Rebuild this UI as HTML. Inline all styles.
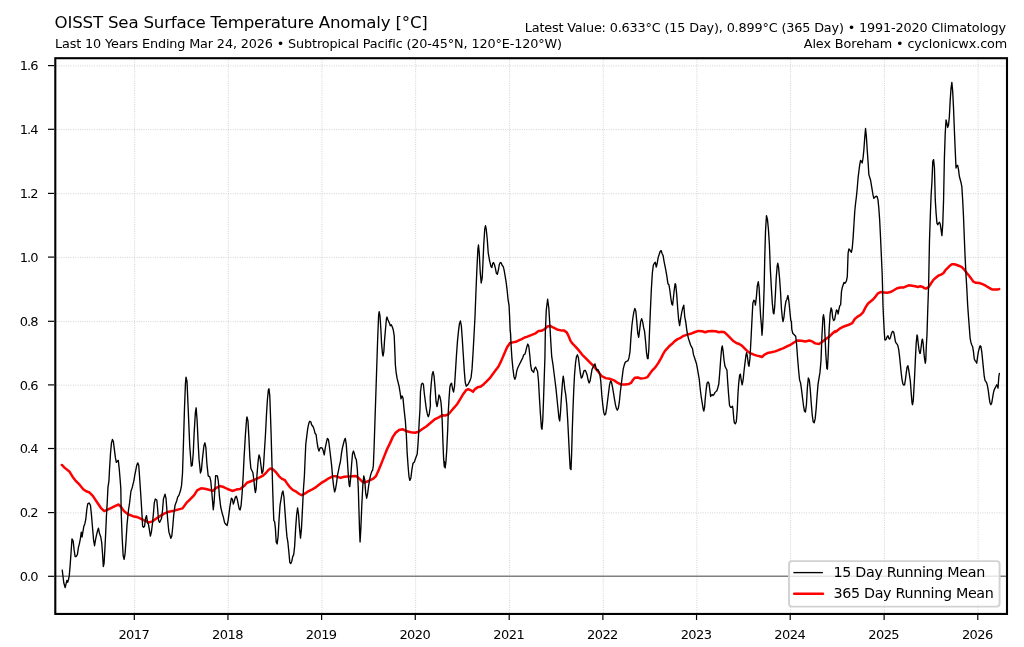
<!DOCTYPE html><html><head><meta charset="utf-8"><style>html,body{margin:0;padding:0;background:#fff;width:1024px;height:647px;overflow:hidden;}svg{display:block;}text{font-family:"DejaVu Sans","Liberation Sans",sans-serif;fill:#000;font-variant-ligatures:none;font-feature-settings:"liga" 0,"clig" 0;font-kerning:normal;}</style></head><body>
<svg width="1024" height="647" viewBox="0 0 1024 647">
<rect x="0" y="0" width="1024" height="647" fill="#fff"/>
<g stroke="#b0b0b0" stroke-width="0.9" stroke-dasharray="0.9 1.45" opacity="0.7"><line x1="56.5" x2="1006" y1="512.90" y2="512.90"/><line x1="56.5" x2="1006" y1="448.80" y2="448.80"/><line x1="56.5" x2="1006" y1="385.20" y2="385.20"/><line x1="56.5" x2="1006" y1="321.60" y2="321.60"/><line x1="56.5" x2="1006" y1="257.40" y2="257.40"/><line x1="56.5" x2="1006" y1="193.70" y2="193.70"/><line x1="56.5" x2="1006" y1="129.60" y2="129.60"/><line x1="56.5" x2="1006" y1="65.90" y2="65.90"/><line x1="134.65" x2="134.65" y1="59.5" y2="613"/><line x1="228.31" x2="228.31" y1="59.5" y2="613"/><line x1="321.98" x2="321.98" y1="59.5" y2="613"/><line x1="415.64" x2="415.64" y1="59.5" y2="613"/><line x1="509.56" x2="509.56" y1="59.5" y2="613"/><line x1="603.22" x2="603.22" y1="59.5" y2="613"/><line x1="696.89" x2="696.89" y1="59.5" y2="613"/><line x1="790.55" x2="790.55" y1="59.5" y2="613"/><line x1="884.47" x2="884.47" y1="59.5" y2="613"/><line x1="978.13" x2="978.13" y1="59.5" y2="613"/></g>
<line x1="56" x2="1006" y1="576.25" y2="576.25" stroke="#808080" stroke-width="1.35"/>
<polyline fill="none" stroke="#ff0000" stroke-width="2.5" stroke-linejoin="round" stroke-linecap="round" points="61.84,464.97 64.76,467.89 69.63,471.79 72.55,476.65 75.46,480.55 79.36,484.44 83.25,489.30 86.17,491.25 89.09,492.22 92.98,496.12 96.88,501.96 100.77,507.80 104.27,511.10 107.58,509.74 111.47,507.80 115.37,505.85 118.68,504.49 121.21,507.21 124.13,511.30 128.02,514.22 132.89,516.17 136.78,516.94 141.64,519.09 145.54,521.03 149.04,522.39 152.35,521.42 156.24,518.50 160.14,516.17 164.03,513.64 168.90,511.69 173.76,510.72 178.63,509.35 182.52,508.38 186.41,502.93 190.31,499.04 194.20,495.14 197.12,490.28 201.01,488.33 204.91,488.72 208.80,489.69 212.69,490.86 212.92,490.95 215.84,488.03 219.73,486.08 223.63,487.06 227.52,489.00 232.38,490.95 236.28,489.59 240.17,489.00 244.06,486.08 246.98,482.77 250.88,481.22 254.77,479.66 258.66,477.91 262.55,475.96 265.47,473.43 268.39,469.93 270.34,468.56 273.26,469.54 276.18,472.46 279.10,476.35 282.02,478.88 284.94,480.24 286.89,483.16 289.81,487.06 292.73,489.98 295.64,491.34 298.56,493.48 301.48,495.23 304.40,493.87 307.32,491.92 311.22,489.98 316.08,487.06 320.95,483.16 324.84,480.83 328.73,478.30 332.63,476.35 336.52,476.35 340.41,477.91 344.31,476.74 348.20,476.55 352.09,476.35 355.99,475.96 358.91,478.30 361.82,481.22 363.77,482.58 366.69,481.80 369.61,480.24 369.17,480.70 373.35,478.61 376.13,475.83 378.91,469.57 381.70,462.61 384.48,455.65 387.26,448.70 390.04,443.13 392.83,436.87 395.61,432.70 399.09,429.91 402.57,429.22 406.74,431.30 410.91,432.28 415.09,432.70 418.57,431.72 422.04,429.22 426.22,426.43 430.39,422.96 434.57,419.48 438.74,417.39 442.22,415.30 445.78,415.38 448.70,414.01 451.62,410.51 454.54,407.20 457.46,403.70 460.38,398.83 463.30,393.97 466.22,390.07 468.16,389.10 471.08,390.46 473.03,391.63 474.98,389.10 477.90,387.15 480.82,386.57 483.73,384.23 486.65,381.31 489.57,378.39 492.49,374.50 495.41,370.61 498.33,366.72 501.25,360.88 504.17,354.06 507.09,347.25 510.01,342.97 512.93,342.38 515.85,341.80 518.77,340.44 521.69,339.08 524.61,337.52 526.81,336.83 531.68,334.88 535.57,333.32 538.49,330.99 541.41,330.79 544.33,329.43 547.25,326.51 550.17,325.93 553.09,327.48 556.98,329.43 560.88,330.40 563.80,330.40 566.72,332.35 568.66,336.24 570.61,341.11 572.55,343.64 575.47,346.56 578.39,349.89 582.29,354.76 586.18,358.65 590.07,362.55 593.97,366.44 597.86,371.30 601.75,376.17 605.64,378.12 609.54,378.70 613.43,380.06 617.32,382.59 621.22,384.54 625.11,384.54 629.00,383.96 630.95,382.98 632.90,380.06 634.84,377.73 637.76,377.53 640.68,378.51 644.57,378.12 647.49,377.14 649.44,374.22 652.36,370.33 655.28,367.41 658.20,363.13 661.12,358.07 663.07,354.18 665.01,350.87 668.91,346.56 671.82,344.03 674.74,341.11 677.66,339.16 680.00,338.19 682.79,336.17 686.68,334.81 690.57,333.83 694.46,332.28 698.36,330.91 702.25,331.30 705.17,332.28 708.09,331.30 711.98,330.91 715.88,331.30 718.80,332.28 721.72,331.69 724.64,332.28 727.55,335.20 730.47,338.12 733.39,341.04 736.31,342.98 739.23,343.96 742.15,345.90 745.07,348.82 747.99,351.74 750.91,353.30 753.83,354.66 756.75,355.64 759.67,356.22 762.01,357.00 764.54,354.66 767.46,353.10 771.35,352.33 775.24,351.35 779.14,349.80 783.03,348.43 786.92,346.49 790.82,344.54 794.71,342.01 797.63,340.45 801.52,340.65 805.41,341.43 809.31,340.45 812.23,341.43 815.15,343.37 819.04,343.96 821.96,342.01 825.85,339.09 829.74,336.17 832.66,333.25 835.00,331.30 835.33,331.94 837.32,330.62 840.64,328.12 843.96,326.46 847.28,325.30 850.60,323.97 852.26,323.14 854.75,318.99 857.24,316.84 860.56,314.84 863.05,312.35 865.54,307.37 868.03,303.55 870.52,301.56 873.01,299.57 875.50,296.58 877.99,293.26 880.48,292.10 883.80,292.43 887.12,292.76 890.45,292.10 893.77,290.27 897.09,288.28 900.41,287.45 903.73,287.45 906.22,286.29 908.71,285.29 912.03,285.79 915.35,286.29 917.84,286.95 920.33,286.29 922.82,286.95 924.48,288.28 926.14,288.61 928.63,286.95 931.12,283.30 933.61,279.65 936.10,277.49 938.59,275.44 941.08,274.61 943.57,272.95 945.23,270.46 947.72,267.97 950.21,265.48 951.87,264.32 954.36,264.32 956.85,264.98 959.34,265.98 961.83,267.14 964.32,269.63 966.81,272.95 969.30,275.94 970.96,278.32 973.45,281.64 975.94,282.80 979.26,282.97 982.58,284.13 985.07,285.29 987.56,286.95 990.05,288.28 992.54,289.61 995.04,289.61 997.53,289.44 999.19,289.11"/>
<polyline fill="none" stroke="#000" stroke-width="1.35" stroke-linejoin="round" stroke-linecap="round" points="62.23,570.08 63.79,582.73 65.15,587.60 66.12,583.71 66.90,580.40 67.68,582.35 68.46,579.82 69.24,575.92 70.01,567.16 70.99,553.54 71.96,538.94 73.13,540.89 74.10,549.64 75.08,556.46 76.24,556.46 77.41,554.51 78.38,547.70 79.36,543.81 80.33,538.94 81.30,532.13 82.08,536.99 82.86,532.13 83.83,526.29 84.81,523.95 85.78,519.47 86.75,509.74 87.73,503.90 89.09,502.93 90.45,505.27 91.43,514.61 92.40,526.29 93.57,539.91 94.54,545.75 95.51,539.91 96.49,535.05 97.46,531.15 98.43,528.23 99.41,533.10 100.77,536.99 101.74,542.83 102.52,553.54 103.30,566.58 104.08,563.27 104.86,549.64 105.64,534.07 106.41,516.55 107.19,502.93 107.97,487.36 108.94,480.79 109.53,469.11 110.50,453.54 111.47,442.83 112.45,439.52 113.42,441.86 114.39,449.64 115.37,457.43 116.34,462.30 117.31,461.32 118.29,460.35 119.26,469.11 120.23,480.79 120.82,488.57 121.21,512.66 122.18,537.97 123.15,555.48 124.13,559.38 125.10,553.54 126.07,539.91 127.05,524.34 128.41,510.72 129.58,502.93 130.94,491.25 132.30,487.36 132.89,484.68 133.86,480.79 134.83,474.95 135.81,470.08 136.78,465.22 137.75,462.88 138.73,465.22 139.31,473.00 140.09,484.68 140.67,493.20 141.64,508.77 142.62,526.29 143.59,527.26 144.56,526.29 145.54,518.50 146.51,515.58 147.48,522.39 148.46,524.34 149.43,530.18 150.40,536.02 151.38,532.13 152.35,524.34 153.32,514.61 154.30,502.93 155.27,499.04 156.83,500.01 157.61,508.77 158.58,520.45 159.55,522.39 160.53,520.45 161.50,518.50 162.47,510.72 163.45,499.04 165.00,494.17 165.98,498.06 166.95,510.72 167.92,522.39 168.90,532.13 169.87,535.05 170.84,538.36 171.82,536.02 172.79,526.29 173.76,514.61 175.12,504.88 176.68,500.98 177.65,497.09 179.02,495.14 180.57,490.28 181.55,485.41 182.52,473.00 183.49,441.86 184.47,408.77 185.44,383.46 186.02,377.24 187.00,381.52 188.36,412.66 189.72,445.75 191.28,466.19 192.25,465.22 193.23,453.54 194.20,432.13 195.37,412.66 196.15,407.80 197.12,420.45 198.09,441.86 199.07,459.38 200.43,473.00 201.40,470.08 202.37,459.38 203.93,445.75 204.91,442.83 205.88,447.70 206.85,463.27 208.21,475.92 209.77,476.90 210.74,480.79 211.72,491.25 212.69,502.93 213.27,509.74 214.05,502.93 214.64,493.20 215.61,475.68 217.40,475.84 218.37,481.68 219.34,495.30 220.71,506.98 222.07,512.82 223.24,516.72 224.60,522.55 225.96,524.50 227.13,525.47 228.10,520.61 229.08,512.82 229.85,506.98 230.83,501.14 231.41,498.22 232.38,499.20 233.36,504.06 234.33,501.14 235.30,497.25 236.28,496.28 237.25,499.20 238.22,504.06 239.20,508.93 240.17,509.90 241.14,505.04 242.12,493.36 243.09,477.79 244.06,457.86 245.43,434.50 246.59,418.93 246.98,416.98 247.96,420.88 248.93,438.39 249.90,457.86 250.88,468.56 251.85,470.51 252.82,472.46 253.80,479.27 254.77,489.00 255.35,492.51 256.13,489.00 257.10,473.43 258.27,459.81 259.05,454.94 260.02,457.86 261.00,465.64 261.97,473.43 262.94,471.48 263.53,465.64 264.50,450.07 265.47,434.50 266.45,415.04 267.42,399.46 268.39,389.73 268.98,388.76 269.76,395.57 270.34,411.14 271.12,434.50 271.90,461.75 272.68,489.00 273.26,506.98 273.84,520.61 274.62,521.58 275.40,528.39 276.18,542.02 277.15,543.97 278.13,536.18 279.10,518.66 280.07,505.04 281.05,499.20 282.02,493.36 282.99,491.02 283.97,497.25 284.94,510.88 285.91,524.50 286.89,536.18 287.86,542.02 288.83,551.75 289.81,562.46 290.78,563.43 291.75,561.48 292.73,556.62 293.70,554.67 294.67,545.91 295.64,528.39 296.62,514.77 297.59,507.96 298.56,514.77 299.54,528.39 300.51,538.13 301.48,528.39 302.46,508.93 303.43,489.46 304.40,475.84 304.99,461.75 305.77,444.23 306.74,436.45 307.71,428.66 308.69,423.80 309.66,421.27 310.83,421.85 311.61,424.77 313.16,426.72 314.14,429.64 315.11,433.53 316.08,434.50 317.06,442.29 318.03,448.13 319.00,451.05 319.98,448.13 320.95,447.74 322.31,448.13 323.28,451.05 324.26,454.94 325.23,448.13 326.40,442.29 327.37,438.39 328.35,439.37 329.12,444.23 330.29,453.97 331.65,465.64 332.63,477.32 333.60,486.08 334.57,491.92 335.55,489.00 336.52,483.16 337.49,475.38 338.47,470.51 339.44,465.64 340.41,461.75 341.39,453.97 342.36,448.13 343.33,444.23 344.31,440.34 345.28,438.39 346.25,444.23 347.23,457.86 348.20,473.43 349.17,485.11 349.76,486.67 350.54,479.27 351.51,465.64 352.48,453.97 353.45,451.05 354.43,453.97 355.40,457.86 356.37,459.81 357.35,469.54 358.32,489.00 358.91,508.93 359.49,528.39 360.07,542.02 360.85,528.39 361.82,505.04 362.80,485.57 363.77,475.84 364.74,479.73 365.72,493.36 366.69,498.22 367.66,493.36 368.64,485.57 369.61,479.73 370.57,475.13 371.96,470.96 372.65,470.26 373.35,465.39 374.04,448.70 374.74,427.83 376.68,368.66 377.65,339.46 378.63,315.11 379.21,311.61 379.99,316.08 380.96,330.68 381.55,343.36 382.52,354.06 383.10,356.01 383.88,351.14 384.46,341.41 385.44,329.73 386.41,319.00 387.00,317.06 387.97,319.98 389.33,322.90 390.30,325.82 391.28,324.84 392.25,326.79 393.22,329.71 394.20,335.57 394.78,349.20 395.36,364.77 396.14,372.55 397.12,378.39 398.09,382.29 399.06,386.18 400.04,392.02 401.01,398.83 401.98,395.91 402.96,397.86 403.96,408.35 405.35,420.87 406.32,434.78 407.16,452.87 408.13,466.78 408.97,476.52 409.80,480.42 410.91,477.91 411.89,469.57 413.00,463.30 414.39,461.91 415.78,457.74 417.17,454.26 417.87,445.91 418.57,434.78 419.26,420.87 419.96,409.74 420.47,392.02 421.45,384.23 422.42,383.26 423.39,384.23 424.37,393.97 426.22,408.35 427.33,413.91 428.30,416.70 429.28,413.91 430.39,405.57 430.21,397.86 431.18,384.23 432.15,374.50 433.13,371.58 434.10,376.45 435.07,388.13 436.05,401.75 437.02,406.62 437.99,401.75 438.97,394.94 439.94,396.89 440.91,401.75 441.52,408.35 442.22,420.87 442.91,441.74 443.61,458.43 444.30,466.78 444.42,461.41 445.19,467.83 445.97,461.41 446.75,449.73 447.73,429.00 448.31,411.48 449.09,397.86 449.87,387.15 450.64,384.23 451.62,383.26 452.59,389.10 453.56,392.02 454.54,386.18 455.51,370.61 456.48,355.04 457.46,341.41 458.43,331.68 459.40,323.89 460.38,320.97 461.35,325.84 462.32,339.46 463.30,355.04 464.27,370.61 465.24,382.29 466.22,386.18 467.19,385.21 468.16,384.23 470.11,380.34 471.08,377.42 472.06,368.66 473.03,353.09 474.00,335.57 474.98,317.06 475.95,291.75 476.92,268.39 477.90,248.93 478.48,245.04 479.26,252.82 480.23,272.29 481.20,282.99 482.18,278.13 482.96,262.55 483.73,245.04 484.71,229.46 485.49,225.57 486.27,229.46 487.24,239.20 488.21,252.82 489.57,260.61 490.94,266.45 491.91,267.42 492.69,263.53 493.47,262.55 494.44,264.50 495.41,268.39 496.39,273.26 497.36,274.23 498.33,270.34 499.31,264.50 500.28,262.55 501.25,262.94 502.23,265.47 503.20,266.45 504.17,270.34 505.15,276.18 506.12,282.02 507.09,289.81 508.07,299.54 509.04,305.38 509.62,317.06 510.21,330.68 510.60,333.63 510.99,343.36 511.96,358.93 512.93,368.66 513.91,376.45 514.88,379.37 515.85,376.45 516.82,370.61 517.80,367.69 518.77,365.74 519.74,363.80 520.72,361.85 521.69,359.90 522.66,357.96 523.64,355.04 525.00,354.06 525.84,350.84 526.81,346.95 527.79,344.03 528.76,345.98 529.73,354.73 530.71,365.46 531.68,370.33 532.65,371.30 533.63,372.28 534.60,368.38 535.57,367.02 536.55,369.36 537.52,371.30 538.49,381.04 539.46,398.55 540.44,414.13 541.41,427.75 542.00,429.31 542.77,419.97 543.36,404.39 544.14,381.04 544.91,357.68 545.30,333.32 546.28,309.97 547.64,299.26 548.81,308.02 549.78,323.59 550.75,341.11 551.73,356.68 553.09,365.46 554.06,373.25 555.04,381.04 556.01,388.82 556.98,398.55 557.96,408.29 558.93,418.02 559.71,420.94 560.49,412.18 561.46,396.61 562.43,382.98 563.21,376.17 563.99,381.04 564.77,388.82 565.74,394.66 566.72,404.39 567.69,419.97 568.66,439.43 569.64,458.90 570.22,468.63 571.00,469.60 571.58,455.00 572.17,433.59 572.94,410.23 573.72,390.77 574.50,375.20 575.47,363.52 576.45,356.71 577.42,354.76 578.39,357.68 579.37,365.46 580.34,373.25 581.31,378.12 582.29,377.14 583.26,373.25 584.23,370.33 585.21,370.33 586.18,372.28 587.15,375.20 588.13,380.06 589.10,382.98 590.07,381.04 591.05,375.20 592.02,369.36 592.99,367.41 593.97,365.46 594.94,363.91 595.91,367.41 596.89,370.33 597.86,369.36 598.83,371.30 599.81,374.22 600.78,381.04 601.75,394.66 602.73,404.39 603.70,412.18 604.67,415.10 605.64,414.13 606.62,408.29 607.59,400.50 608.56,392.72 609.54,384.93 610.51,381.04 611.48,382.01 612.46,386.88 613.43,392.72 614.40,398.55 615.38,404.39 616.35,408.29 617.32,410.23 618.30,408.29 619.27,402.45 620.24,392.72 621.22,384.93 622.19,377.14 623.16,369.36 624.14,365.46 625.11,362.55 626.08,361.57 627.06,361.18 628.03,360.60 629.00,357.68 629.98,351.84 630.95,337.22 631.92,325.54 632.90,317.75 633.87,311.91 634.84,308.41 635.82,310.94 636.79,321.64 637.76,333.32 638.73,337.22 639.71,329.43 640.68,321.64 641.65,318.73 642.63,321.64 643.60,327.48 644.57,331.38 645.55,341.11 646.52,352.79 647.49,358.63 648.08,358.63 648.86,348.90 649.44,333.32 650.41,309.97 651.39,288.55 652.36,272.98 653.33,265.20 654.31,263.25 655.28,262.28 656.25,267.14 657.23,263.25 658.20,257.41 659.17,254.49 660.15,251.57 661.12,250.60 662.09,253.52 663.07,255.46 664.04,261.30 665.01,266.17 665.99,271.04 666.96,276.88 667.93,283.69 668.91,284.66 669.88,290.50 670.85,298.29 671.82,304.13 672.60,305.10 673.38,298.29 674.16,290.50 675.13,283.69 675.72,284.66 676.69,294.39 677.66,308.02 678.64,319.70 679.61,325.54 680.84,317.68 681.81,311.84 682.79,307.95 683.76,305.11 684.73,316.79 685.71,321.57 686.68,329.36 687.65,335.20 688.63,339.09 689.60,342.01 690.57,344.93 691.55,346.88 692.52,348.82 693.49,354.66 694.46,357.58 695.44,360.50 696.41,363.42 697.38,368.29 698.36,374.13 699.33,379.97 700.30,389.70 701.28,397.48 702.25,403.32 703.22,409.16 703.81,411.11 704.59,407.22 705.17,399.43 706.14,389.70 707.12,382.89 708.09,381.91 709.06,383.86 710.04,391.64 710.62,396.51 711.20,395.54 711.98,394.56 712.96,395.54 713.93,394.56 714.90,392.62 715.88,391.64 716.85,390.67 717.82,387.75 718.80,383.86 719.77,372.18 720.74,358.55 721.72,347.85 722.30,345.90 723.08,350.77 724.05,360.50 725.02,366.34 726.00,368.29 726.97,370.23 727.55,379.97 728.53,393.59 729.50,405.27 730.47,407.22 731.45,407.22 732.42,406.24 733.00,409.16 733.78,418.90 734.37,422.79 735.34,423.76 736.31,421.82 737.29,409.16 737.87,395.54 738.65,383.86 739.62,375.10 740.40,374.13 741.18,379.97 742.15,384.83 743.13,379.97 744.10,370.23 745.07,362.45 746.05,354.66 746.63,352.72 747.41,356.61 748.38,364.39 748.97,366.34 749.94,358.55 750.91,341.04 751.89,321.57 752.86,303.16 753.83,300.24 754.81,301.22 755.39,305.11 756.36,297.32 757.34,285.64 758.31,281.75 759.09,287.59 759.87,303.16 760.64,316.79 761.42,325.46 762.01,335.20 762.59,327.41 763.18,315.73 764.15,287.59 764.73,258.39 765.51,231.14 766.48,215.57 767.46,219.46 768.43,229.20 769.40,244.77 770.38,270.07 771.35,287.59 772.32,303.16 773.30,312.90 773.88,313.87 774.66,307.06 775.44,293.43 776.22,277.86 777.19,266.18 777.77,263.26 778.55,267.15 779.53,277.86 780.50,291.48 781.47,309.00 782.45,318.73 783.03,321.65 784.00,316.79 784.98,307.06 785.95,301.22 786.92,299.27 787.90,295.38 788.87,301.22 789.84,310.95 790.82,320.68 791.40,321.57 791.79,329.36 792.76,333.25 793.73,334.22 794.71,335.20 795.68,336.17 796.65,344.93 797.63,358.55 798.60,370.23 799.57,379.97 800.55,382.89 801.52,389.70 802.49,397.48 803.47,405.27 804.44,411.11 805.41,412.08 806.39,405.27 807.36,387.75 808.33,378.02 809.31,379.97 810.28,389.70 811.25,403.32 812.23,415.00 813.20,421.82 814.17,422.79 815.15,418.90 816.12,409.16 817.09,395.54 818.07,383.86 819.04,378.02 820.01,372.18 820.99,360.50 821.96,335.20 822.93,317.68 823.52,314.76 824.29,319.63 824.88,333.25 825.85,354.66 826.82,368.29 827.41,369.26 828.19,354.66 829.16,329.36 830.13,313.79 831.11,307.95 831.89,309.89 832.66,317.68 833.64,320.60 834.61,319.63 835.33,315.67 836.49,309.86 837.32,310.69 838.15,314.01 838.98,309.03 839.81,305.71 840.64,304.88 841.47,291.60 842.30,287.45 843.13,284.96 843.96,282.47 844.79,283.30 845.62,282.47 846.45,280.81 847.28,276.66 848.11,253.03 848.94,248.88 849.77,249.71 850.60,251.37 851.43,252.20 852.26,248.05 853.09,238.09 853.92,224.80 854.75,211.52 855.58,203.22 856.41,196.58 857.24,188.28 858.07,177.93 858.90,171.29 859.73,164.65 860.56,160.50 861.39,161.33 862.22,162.99 863.05,158.01 863.88,149.71 864.71,138.09 865.54,128.46 866.37,136.43 867.20,149.71 868.03,161.33 868.86,174.61 870.52,179.98 871.35,184.96 872.18,189.94 873.01,194.92 873.84,198.24 874.67,197.41 875.50,196.58 876.33,196.25 877.16,196.58 877.99,199.90 878.82,208.20 879.65,219.82 880.48,236.43 881.31,254.69 882.14,272.95 882.48,284.96 882.97,304.88 883.47,316.50 884.14,329.79 884.80,339.75 885.46,339.96 886.29,339.13 887.12,336.64 887.96,335.81 888.79,338.30 889.62,339.13 890.45,337.47 891.28,334.15 892.11,331.99 892.94,331.33 893.77,332.49 894.60,336.64 895.43,341.62 896.26,343.28 897.09,344.11 897.92,345.77 898.75,349.92 899.58,356.56 900.41,364.86 901.24,373.16 902.07,379.80 902.90,383.96 903.73,385.12 904.56,384.79 905.39,379.80 906.22,373.16 907.05,367.35 907.88,365.69 908.71,369.84 909.54,375.65 910.37,381.46 911.20,393.09 912.03,403.05 912.53,404.71 913.19,401.39 913.69,393.09 914.52,378.14 915.35,359.88 916.18,343.28 917.01,334.98 917.51,336.64 918.17,343.28 919.00,349.92 919.83,353.24 920.33,353.24 921.16,346.60 921.99,339.96 922.49,339.13 923.15,343.28 923.65,349.92 924.48,358.22 925.31,363.20 925.81,359.88 926.30,346.60 926.97,334.98 927.80,308.20 928.63,284.96 929.46,241.41 930.29,216.50 931.12,194.92 931.95,181.64 932.78,161.33 933.61,159.67 934.44,167.97 935.27,199.90 936.10,213.18 936.93,223.14 937.76,224.80 938.59,223.14 939.42,222.31 940.25,223.97 941.08,229.79 941.91,235.60 942.74,224.80 943.57,199.90 944.40,158.01 945.23,133.11 946.06,119.82 946.89,123.14 947.72,127.29 948.55,124.80 949.38,116.50 950.21,99.90 951.04,88.28 951.87,82.47 952.70,91.60 953.53,108.20 954.36,129.79 955.19,149.71 956.02,167.97 956.85,165.48 957.68,165.48 958.51,169.63 959.34,176.27 961.00,182.47 961.83,186.62 962.66,199.90 963.49,216.50 964.32,238.09 965.15,258.01 965.98,274.61 966.81,288.28 967.64,304.88 968.47,316.50 970.13,338.30 970.96,342.45 971.79,344.94 972.62,346.60 973.45,351.58 974.28,359.05 975.11,360.71 975.94,361.54 976.77,363.20 977.60,356.56 978.43,351.58 979.26,348.26 980.09,345.77 980.92,346.60 981.75,351.58 982.58,359.88 983.41,368.18 984.24,376.48 985.07,380.63 985.90,381.46 986.73,383.12 987.56,386.45 988.39,391.43 989.22,398.07 990.05,403.05 990.88,404.71 991.71,403.05 992.54,398.07 993.38,393.09 994.21,389.77 995.04,388.11 995.87,386.45 996.70,384.79 997.53,386.45 998.02,388.11 998.36,383.12 998.85,376.48 999.35,373.50"/>
<rect x="789.0" y="561.1" width="210.6" height="45.5" rx="3" fill="#fff" fill-opacity="0.8" stroke="#d2d2d2" stroke-width="1.9"/>
<line x1="793.4" x2="822.9" y1="572.6" y2="572.6" stroke="#000" stroke-width="1.35"/>
<line x1="794.2" x2="823.0" y1="593.8" y2="593.8" stroke="#ff0000" stroke-width="2.5" stroke-linecap="round"/>
<rect x="55.3" y="58.2" width="951.7" height="555.75" fill="none" stroke="#000" stroke-width="2.1" stroke-linejoin="miter"/>
<g stroke="#000" stroke-width="1.2"><line x1="48" x2="54" y1="576.30" y2="576.30"/><line x1="48" x2="54" y1="512.60" y2="512.60"/><line x1="48" x2="54" y1="448.50" y2="448.50"/><line x1="48" x2="54" y1="384.90" y2="384.90"/><line x1="48" x2="54" y1="321.30" y2="321.30"/><line x1="48" x2="54" y1="257.10" y2="257.10"/><line x1="48" x2="54" y1="193.40" y2="193.40"/><line x1="48" x2="54" y1="129.30" y2="129.30"/><line x1="48" x2="54" y1="65.60" y2="65.60"/><line x1="134.30" x2="134.30" y1="615" y2="620"/><line x1="227.96" x2="227.96" y1="615" y2="620"/><line x1="321.63" x2="321.63" y1="615" y2="620"/><line x1="415.29" x2="415.29" y1="615" y2="620"/><line x1="509.21" x2="509.21" y1="615" y2="620"/><line x1="602.87" x2="602.87" y1="615" y2="620"/><line x1="696.54" x2="696.54" y1="615" y2="620"/><line x1="790.20" x2="790.20" y1="615" y2="620"/><line x1="884.12" x2="884.12" y1="615" y2="620"/><line x1="977.78" x2="977.78" y1="615" y2="620"/></g>
<g style="will-change:transform">
<text x="54.60" y="27.90" font-size="16.67" text-anchor="start" textLength="373.23" lengthAdjust="spacing">OISST Sea Surface Temperature Anomaly [°C]</text>
<text x="55.00" y="47.75" font-size="12.8" text-anchor="start" textLength="506.94" lengthAdjust="spacing">Last 10 Years Ending Mar 24, 2026 • Subtropical Pacific (20-45°N, 120°E-120°W)</text>
<text x="1006.00" y="31.75" font-size="12.8" text-anchor="end" textLength="481.26" lengthAdjust="spacing">Latest Value: 0.633°C (15 Day), 0.899°C (365 Day) • 1991-2020 Climatology</text>
<text x="1007.30" y="47.75" font-size="12.8" text-anchor="end" textLength="203.55" lengthAdjust="spacing">Alex Boreham • cyclonicwx.com</text>
<text x="833.50" y="577.40" font-size="14.3" text-anchor="start" textLength="151.73" lengthAdjust="spacing">15 Day Running Mean</text>
<text x="833.50" y="598.40" font-size="14.3" text-anchor="start" textLength="160.35" lengthAdjust="spacing">365 Day Running Mean</text>
<text x="38.60" y="581.05" font-size="13.0" text-anchor="end" textLength="18.90" lengthAdjust="spacing">0.0</text>
<text x="38.60" y="517.35" font-size="13.0" text-anchor="end" textLength="18.90" lengthAdjust="spacing">0.2</text>
<text x="38.60" y="453.25" font-size="13.0" text-anchor="end" textLength="18.90" lengthAdjust="spacing">0.4</text>
<text x="38.60" y="389.65" font-size="13.0" text-anchor="end" textLength="18.90" lengthAdjust="spacing">0.6</text>
<text x="38.60" y="326.05" font-size="13.0" text-anchor="end" textLength="18.90" lengthAdjust="spacing">0.8</text>
<text x="38.60" y="261.85" font-size="13.0" text-anchor="end" textLength="18.90" lengthAdjust="spacing">1.0</text>
<text x="38.60" y="198.15" font-size="13.0" text-anchor="end" textLength="18.90" lengthAdjust="spacing">1.2</text>
<text x="38.60" y="134.05" font-size="13.0" text-anchor="end" textLength="18.90" lengthAdjust="spacing">1.4</text>
<text x="38.60" y="70.35" font-size="13.0" text-anchor="end" textLength="18.90" lengthAdjust="spacing">1.6</text>
<text x="134.10" y="638.75" font-size="13.0" text-anchor="middle" textLength="31.40" lengthAdjust="spacing">2017</text>
<text x="227.76" y="638.75" font-size="13.0" text-anchor="middle" textLength="31.40" lengthAdjust="spacing">2018</text>
<text x="321.43" y="638.75" font-size="13.0" text-anchor="middle" textLength="31.40" lengthAdjust="spacing">2019</text>
<text x="415.09" y="638.75" font-size="13.0" text-anchor="middle" textLength="31.40" lengthAdjust="spacing">2020</text>
<text x="509.01" y="638.75" font-size="13.0" text-anchor="middle" textLength="31.40" lengthAdjust="spacing">2021</text>
<text x="602.67" y="638.75" font-size="13.0" text-anchor="middle" textLength="31.40" lengthAdjust="spacing">2022</text>
<text x="696.34" y="638.75" font-size="13.0" text-anchor="middle" textLength="31.40" lengthAdjust="spacing">2023</text>
<text x="790.00" y="638.75" font-size="13.0" text-anchor="middle" textLength="31.40" lengthAdjust="spacing">2024</text>
<text x="883.92" y="638.75" font-size="13.0" text-anchor="middle" textLength="31.40" lengthAdjust="spacing">2025</text>
<text x="977.58" y="638.75" font-size="13.0" text-anchor="middle" textLength="31.40" lengthAdjust="spacing">2026</text>
</g>
</svg></body></html>
